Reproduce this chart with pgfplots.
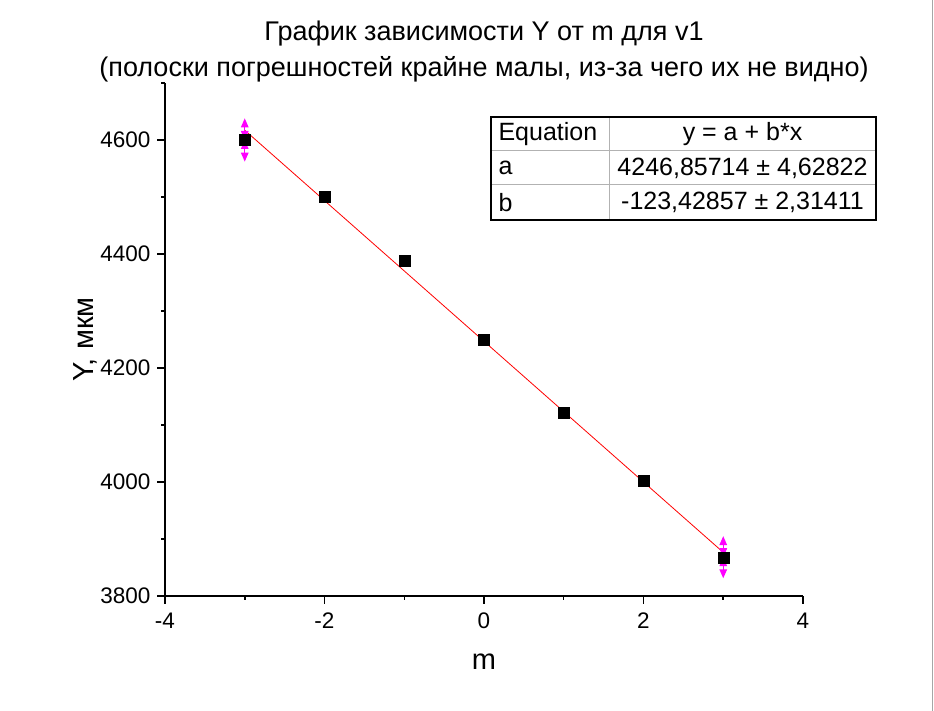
\documentclass[border=0pt]{standalone}
\usepackage{fontspec}
\setmainfont{Liberation Sans}
\usepackage{pgfplots}
\pgfplotsset{compat=1.18}
\usetikzlibrary{arrows.meta}
\definecolor{errmag}{RGB}{255,0,255}
\begin{document}
\begin{tikzpicture}[x=1pt,y=1pt]
\useasboundingbox (0,0) rectangle (934,711);
\fill[white] (0,0) rectangle (934,711);
\draw[gray!70, line width=1.5pt] (932.5,0) -- (932.5,711);
\begin{axis}[
  at={(165pt,115pt)}, anchor=south west,
  scale only axis, width=638pt, height=513pt,
  xmin=-4, xmax=4, ymin=3800, ymax=4700,
  axis x line=bottom, axis y line=left,
  axis line style={-, line width=1.5pt, black},
  xtick={-4,-2,...,4}, ytick={3800,4000,...,4600},
  minor xtick={-3,-1,1,3}, minor ytick={3900,4100,...,4700},
  tick align=outside, major tick length=8pt, minor tick length=4pt,
  every tick/.style={line width=1.5pt, black},
  ticklabel style={font=\fontsize{22.5}{26}\selectfont},
  yticklabel style={xshift=-3pt},
  xticklabel style={yshift=-5pt},
  /pgf/number format/assume math mode=true,
  /pgf/number format/1000 sep={},
  xlabel={m}, ylabel={Y, мкм},
  label style={font=\fontsize{29}{33}\selectfont},
  xlabel style={at={(axis description cs:0.5,-0.1287)}, anchor=center},
  ylabel style={at={(axis description cs:-0.1254,0.5)}, anchor=center},
  clip=false,
]
\addplot[red, line width=0.8pt, mark=none] coordinates {(-3,4617.14) (3,3876.57)};
% error bars of the two end points (the others are too small to be seen)
\addplot[only marks, mark=square*, mark size=5.5pt, black,
  error bars/.cd, y dir=both, y explicit, error mark=none,
  error bar style={errmag, line width=1.4pt, {Triangle[length=9pt,width=7.5pt]}-{Triangle[length=9pt,width=7.5pt]}}]
  coordinates {
  (-3,4600) +- (0,38)
  (3,3868) +- (0,37)
  };
\addplot[only marks, mark=square*, mark size=5.5pt, black]
  coordinates {
  (-2,4500)
  (-1,4388)
  (0,4249)
  (1,4121)
  (2,4003)
  };
\end{axis}
% title
\node[font=\fontsize{27}{32}\selectfont] at (484,677) {График зависимости Y от m для v1};
\node[font=\fontsize{27}{32}\selectfont] at (484,642) {(полоски погрешностей крайне малы, из-за чего их не видно)};
% equation table
\fill[white] (491,491) rectangle (876,594);
\draw[gray!60, line width=1pt] (491,560) -- (876,560);
\draw[gray!60, line width=1pt] (491,526) -- (876,526);
\draw[gray!60, line width=1pt] (609,491) -- (609,594);
\draw[black, line width=1.3pt] (491,491) rectangle (876,594);
\begin{scope}[every node/.style={font=\fontsize{25}{29}\selectfont}]
\node[anchor=west] at (495,577) {Equation};
\node[anchor=west] at (495,543) {a};
\node[anchor=west] at (495,508.5) {b};
\node at (742.5,577) {y = a + b*x};
\node at (742.5,543) {4246,85714 ± 4,62822};
\node at (742.5,508.5) {-123,42857 ± 2,31411};
\end{scope}
\end{tikzpicture}
\end{document}
